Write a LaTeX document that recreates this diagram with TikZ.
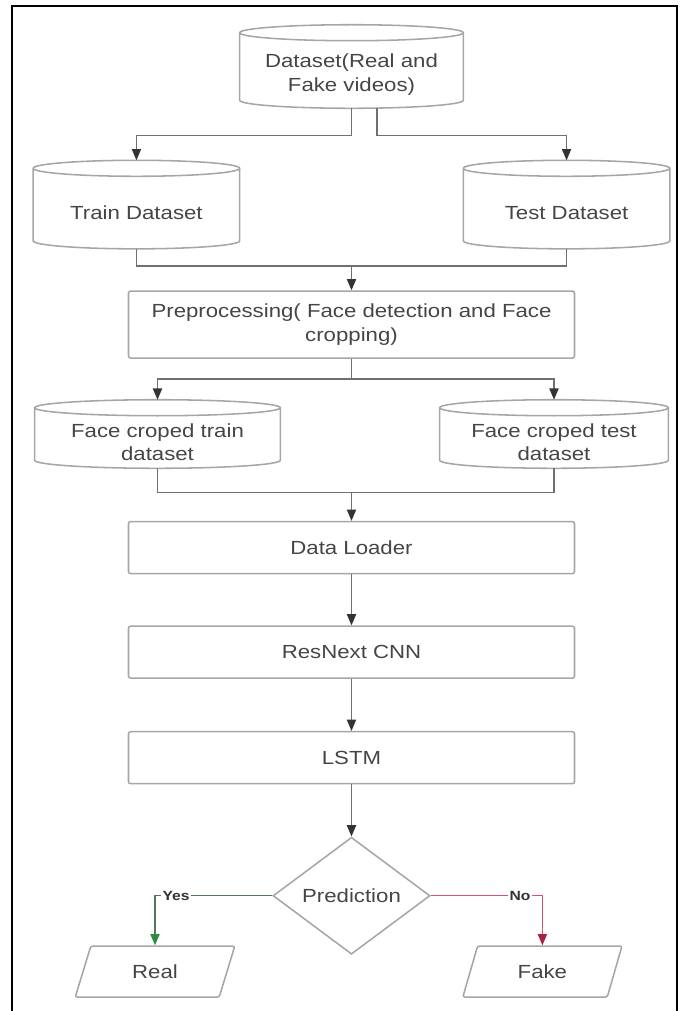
\documentclass[tikz,border=0pt]{standalone}
\usepackage{fontspec}
\setmainfont{Liberation Sans}[FakeStretch=1.17]
\usetikzlibrary{positioning,calc,shapes.geometric,arrows.meta}
\definecolor{boxc}{HTML}{A6A6A6}
\definecolor{linec}{HTML}{707070}
\definecolor{tipc}{HTML}{333333}
\definecolor{txt}{HTML}{454545}
\definecolor{yesc}{HTML}{4E7A58}
\definecolor{yestip}{HTML}{2E8B45}
\definecolor{noc}{HTML}{D9506E}
\definecolor{notip}{HTML}{A8233F}
\tikzset{
	frame/.style = {line width=1.4pt, black}, % page frame, open at the bottom
	my db/.style = {rectangle, inner sep=0pt, align=center, text=txt}, % data store, outline drawn by \dbdraw
	db edge/.style = {draw=boxc, line width=1.1pt},
	edge lbl/.style = {font=\bfseries\fontsize{9.5}{11}\selectfont, fill=white, inner sep=1pt, text=tipc}
}
\newcommand{\dbry}{0.2cm}% half height of the top and bottom ellipse
\newcommand{\dbdraw}[1]{%
	\draw[db edge] let \p1=(#1.north west), \p2=(#1.south east), \n1={(\x2-\x1)/2} in
		({\x1+\n1},{\y1+\dbry}) ellipse [x radius=\n1, y radius=\dbry]
		(\p1) ++(0,\dbry) -- ({\x1},{\y2+\dbry})
		arc [start angle=180, end angle=360, x radius=\n1, y radius=\dbry]
		-- ({\x2},{\y1+\dbry});}

\begin{document}
\begin{tikzpicture}[font=\fontsize{13.5}{16.5}\selectfont]
	\tikzset{my box/.style = {rectangle, draw=boxc, line width=1.1pt, rounded corners=1.5pt, text=txt, align=center, minimum width=11.15cm, minimum height=1.3cm}}
	\tikzset{my edge/.style = {draw=linec, line width=1pt}}
	\tikzset{my arrow/.style = {my edge, -{Triangle[length=8pt,width=6.5pt,color=tipc]}}}
	\useasboundingbox (0,0) rectangle (17.075,-25.275);
	\draw[frame] (0.3,-25.275) |- (16.925,-0.15) -- (16.925,-25.275);
	% data stores
	\node[my db, minimum width=5.575cm, minimum height=1.675cm] (1) at (8.7875,-1.8625) {Dataset(Real and\\Fake videos)};
	\node[my db, minimum width=5.15cm, minimum height=1.8cm] (2) [below left=1.7cm and 0cm of 1] {Train Dataset};
	\node[my db, minimum width=5.15cm, minimum height=1.8cm] (3) [below right=1.7cm and 0cm of 1] {Test Dataset};
	\node[my box, minimum height=1.675cm] (4) [below=4.55cm of 1] {Preprocessing( Face detection and Face\\cropping)};
	\node[my db, minimum width=6.125cm, minimum height=1.3cm] (5) at (3.9375,-11.05) {Face croped train\\dataset};
	\node[my db, minimum width=5.7cm, minimum height=1.3cm] (6) at (13.85,-11.05) {Face croped test\\dataset};
	% main chain
	\node[my box] (7) [below=4.05cm of 4] {Data Loader};
	\node[my box] (8) [below=1.275cm of 7] {ResNext CNN};
	\node[my box] (9) [below=1.3cm of 8] {LSTM};
	\node[diamond, draw=boxc, line width=1.1pt, text=txt, inner sep=0pt, minimum width=3.925cm, minimum height=2.925cm] (10) [below=1.3cm of 9] {Prediction};
	\node[trapezium, trapezium left angle=74, trapezium right angle=106, trapezium stretches=true, draw=boxc, line width=1.1pt, rounded corners=1.5pt, text=txt, minimum width=4cm, minimum height=1.275cm] (11) at (3.875,-24.29) {Real};
	\node[trapezium, trapezium left angle=74, trapezium right angle=106, trapezium stretches=true, draw=boxc, line width=1.1pt, rounded corners=1.5pt, text=txt, minimum width=4cm, minimum height=1.275cm] (12) at (13.56,-24.29) {Fake};
	\dbdraw{1}
	\dbdraw{2}
	\dbdraw{3}
	\dbdraw{5}
	\dbdraw{6}
	% connectors
	\draw[my arrow] (1.south) -- ++(0,-0.675) -| ([yshift=0.4cm]2.north);
	\draw[my arrow] ([xshift=0.64cm]1.south) -- ++(0,-0.675) -| ([yshift=0.4cm]3.north);
	\draw[my edge] (2.south) -- ++(0,-0.425) coordinate (m1) -| (3.south);
	\draw[my arrow] (m1 -| 4.north) -- (4.north);
	\draw[my arrow] (4.south) -- ++(0,-0.5) coordinate (s1) -| ([yshift=0.4cm]5.north);
	\draw[my arrow] (s1) -| ([yshift=0.4cm]6.north);
	\draw[my edge] (5.south) -- ++(0,-0.6) coordinate (m2) -| (6.south);
	\draw[my arrow] (m2 -| 7.north) -- (7.north);
	\draw[my arrow] (7) -- (8);
	\draw[my arrow] (8) -- (9);
	\draw[my arrow] (9) -- (10);
	\draw[my arrow, draw=yesc, -{Triangle[length=8pt,width=6.5pt,color=yestip]}] (10.west) -| node[edge lbl, pos=0.41] {Yes} (11.north);
	\draw[my arrow, draw=noc, -{Triangle[length=8pt,width=6.5pt,color=notip]}] (10.east) -| node[edge lbl, pos=0.4] {No} (12.north);
\end{tikzpicture}
\end{document}
